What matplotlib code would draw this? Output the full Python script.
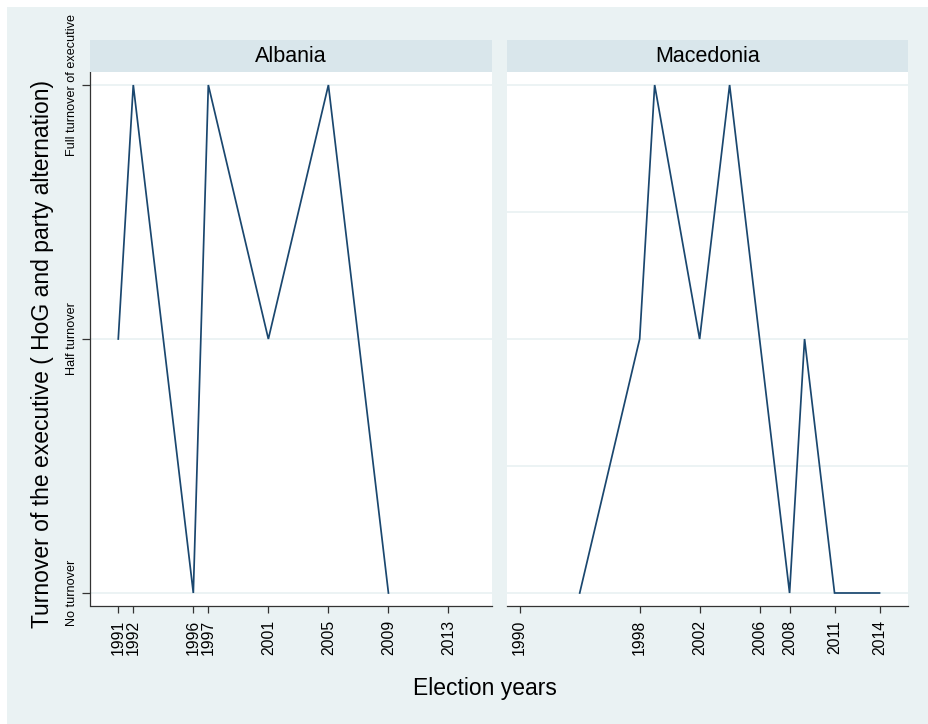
import matplotlib
matplotlib.use("Agg")
import matplotlib.pyplot as plt
from matplotlib.patches import Rectangle

plt.rcParams['font.family'] = ['Liberation Sans', 'DejaVu Sans']

# Election years and executive turnover per country
albania_years = [1991, 1992, 1996, 1997, 2001, 2005, 2009]
albania_turnover = [0.5, 1.0, 0.0, 1.0, 0.5, 1.0, 0.0]
albania_ticks = [1991, 1992, 1996, 1997, 2001, 2005, 2009, 2013]

macedonia_years = [1994, 1998, 1999, 2002, 2004, 2006, 2008, 2009, 2011, 2014]
macedonia_turnover = [0.0, 0.5, 1.0, 0.5, 1.0, 0.5, 0.0, 0.5, 0.0, 0.0]
macedonia_ticks = [1990, 1998, 2002, 2006, 2008, 2011, 2014]

y_levels = [0.0, 0.5, 1.0]
y_labels = ["No turnover", "Half turnover", "Full turnover of executive"]
albania_grid = [0.0, 0.5, 1.0]
macedonia_grid = [0.0, 0.25, 0.5, 0.75, 1.0]

W, H = 929, 724
LINE = "#1a476f"
OUTER = "#eaf2f3"
STRIP = "#d9e6eb"
GRID = "#eaf2f3"
AXC = "#333333"

fig = plt.figure(figsize=(W / 100, H / 100), dpi=100, facecolor="white")
fig.patches.append(Rectangle((7 / W, 0), 1 - 7 / W, 1 - 7 / H,
                             transform=fig.transFigure, facecolor=OUTER,
                             edgecolor="none", zorder=-10))


def px_box(x0, x1, y0, y1):
    return [x0 / W, 1 - y1 / H, (x1 - x0) / W, (y1 - y0) / H]


panels = [
    ("Albania", albania_years, albania_turnover, albania_ticks, albania_grid, 90.5, 492, True),
    ("Macedonia", macedonia_years, macedonia_turnover, macedonia_ticks, macedonia_grid, 507, 908, False),
]

for name, xs, ys, ticks, grid, x0, x1, show_y in panels:
    ax = fig.add_axes(px_box(x0, x1, 72, 606))
    ax.set_facecolor("white")
    for g in grid:
        ax.axhline(g, color=GRID, lw=1.3, zorder=1)
    ax.plot(xs, ys, color=LINE, lw=1.25, zorder=3, solid_joinstyle="miter")
    ax.set_xlim(1989.15, 2015.9)
    ax.set_ylim(-0.0256, 1.0256)
    ax.set_xticks(ticks)
    ax.set_xticklabels([str(t) for t in ticks], rotation=90, fontsize=11.3)
    ax.tick_params(axis="x", length=5, width=0.9, color=AXC, pad=5)
    for s in ["top", "right"]:
        ax.spines[s].set_visible(False)
    ax.spines["bottom"].set_color(AXC)
    ax.spines["bottom"].set_linewidth(0.9)
    if show_y:
        ax.set_yticks(y_levels)
        ax.set_yticklabels(y_labels, rotation=90, fontsize=9.1, va="center")
        ax.tick_params(axis="y", length=5.8, width=0.9, color=AXC, pad=3.0)
        ax.spines["left"].set_color(AXC)
        ax.spines["left"].set_linewidth(0.9)
    else:
        ax.set_yticks([])
        ax.spines["left"].set_visible(False)

    sax = fig.add_axes(px_box(x0 - 0.5 if show_y else x0, x1, 40, 72))
    sax.set_facecolor(STRIP)
    sax.set_xticks([])
    sax.set_yticks([])
    for s in sax.spines.values():
        s.set_visible(False)
    sax.text(0.5, 0.5, name, ha="center", va="center", fontsize=15.5,
             transform=sax.transAxes)

fig.text(43 / W, 1 - 354 / H, "Turnover of the executive ( HoG and party alternation)",
         rotation=90, ha="center", va="center", fontsize=16.5)
fig.text(485 / W, 1 - 688 / H, "Election years", ha="center", va="center", fontsize=16.5)

fig.savefig("out.png", dpi=100, facecolor=fig.get_facecolor())
